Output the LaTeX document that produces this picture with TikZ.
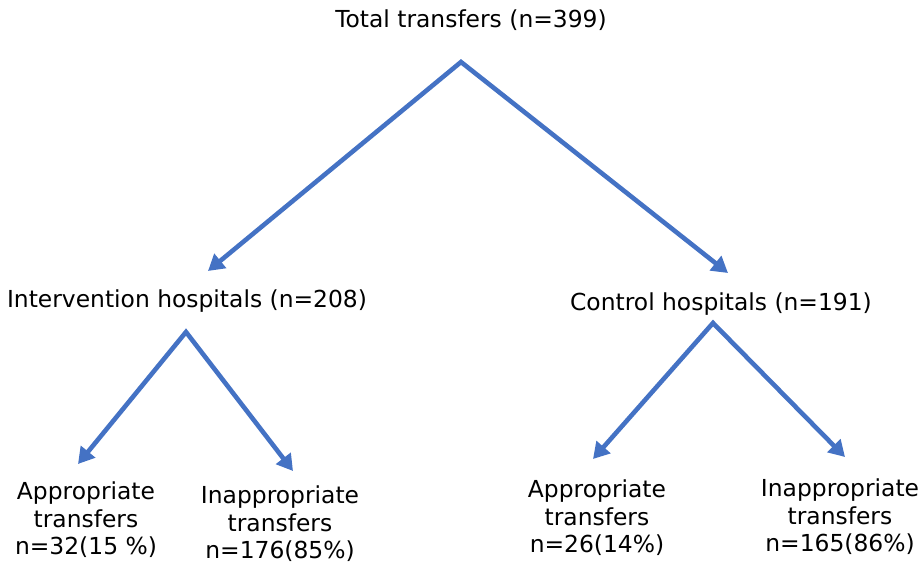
\documentclass[tikz,border=0pt]{standalone}
\usepackage{fontspec}
\setmainfont{DejaVu Sans}
\usetikzlibrary{arrows.meta}
\definecolor{arrowblue}{HTML}{4472C4}
\begin{document}
\begin{tikzpicture}[x=1pt,y=-1pt,
  lbl/.style={font=\fontsize{23.4}{27.5}\selectfont, inner sep=0pt, align=center, text=black},
  conn/.style={draw=arrowblue, line width=4.6pt, line join=miter},
  arr/.style={conn, {Triangle[length=16pt,width=18pt]}-{Triangle[length=16pt,width=18pt]}}]
\useasboundingbox (0,0) rectangle (924,565);
\node[lbl] (total) at (471,20) {Total transfers (n=399)};
\node[lbl] (inter) at (187,301) {Intervention hospitals (n=208)};
\node[lbl] (ctrl) at (721,304) {Control hospitals (n=191)};
\node[lbl] (ia) at (86,520) {Appropriate\\transfers\\n=32(15 \%)};
\node[lbl] (ii) at (280,524) {Inappropriate\\transfers\\n=176(85\%)};
\node[lbl] (ca) at (597,518) {Appropriate\\transfers\\n=26(14\%)};
\node[lbl] (ci) at (840,517) {Inappropriate\\transfers\\n=165(86\%)};
\coordinate (top) at (461,62);
\coordinate (tl) at (208,271);
\coordinate (tr) at (728,273);
\coordinate (ltop) at (186,332);
\coordinate (lA) at (78,464);
\coordinate (lB) at (293,471);
\coordinate (rtop) at (713,323);
\coordinate (rA) at (593,459);
\coordinate (rB) at (845,457);
\draw[arr] (tl) -- (top) -- (tr);
\draw[arr] (lA) -- (ltop) -- (lB);
\draw[arr] (rA) -- (rtop) -- (rB);
\end{tikzpicture}
\end{document}
